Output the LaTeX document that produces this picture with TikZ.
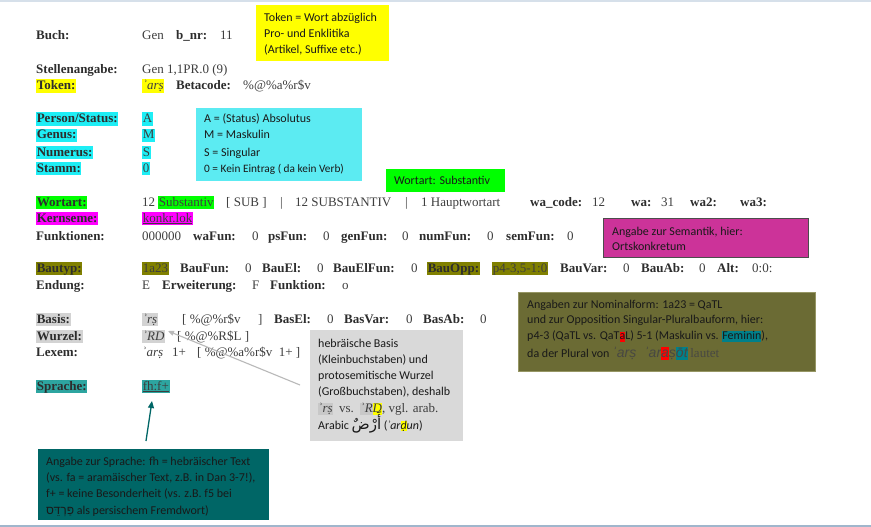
\documentclass[tikz,border=0pt]{standalone}
\usepackage{fontspec}
\setmainfont{Liberation Serif}
\newfontfamily\calfont{Carlito}
\newfontfamily\arabfont[Script=Arabic]{DejaVu Sans}
\newfontfamily\hebfont[Script=Hebrew]{Liberation Sans}
\newfontfamily\lsans{Liberation Sans}
\TeXXeTstate=1
\usetikzlibrary{arrows.meta}
\definecolor{hlyellow}{RGB}{255,255,0}
\definecolor{hlcyan}{RGB}{30,238,245}
\definecolor{boxcyan}{RGB}{92,235,242}
\definecolor{hlgreen}{RGB}{0,255,0}
\definecolor{hlmag}{RGB}{255,0,255}
\definecolor{boxmag}{RGB}{204,51,153}
\definecolor{hlolive}{RGB}{128,128,0}
\definecolor{boxolive}{RGB}{107,107,52}
\definecolor{boxoliveb}{RGB}{150,150,100}
\definecolor{olivetxt}{RGB}{72,72,66}
\definecolor{hlgray}{RGB}{211,211,211}
\definecolor{hlgrayb}{RGB}{200,200,200}
\definecolor{boxgray}{RGB}{217,217,217}
\definecolor{hlteal}{RGB}{45,165,160}
\definecolor{hltealb}{RGB}{0,128,138}
\definecolor{boxteal}{RGB}{0,102,102}
\definecolor{hlred}{RGB}{255,0,0}
\definecolor{txt}{RGB}{62,62,62}
\definecolor{lbl}{RGB}{45,45,45}
\definecolor{boxtxt}{RGB}{25,25,25}
\definecolor{frametop}{RGB}{214,224,234}
\definecolor{framebot}{RGB}{160,182,204}
\definecolor{arrgray}{RGB}{185,185,185}
\newcommand\hlbx[2]{{\setlength{\fboxsep}{0pt}\colorbox{#1}{\vphantom{Ag}#2}}}
\tikzset{
  val/.style={anchor=base west, inner sep=0pt, font=\fontsize{13}{16}\selectfont, text=txt},
  lab/.style={val, font=\fontsize{13}{16}\selectfont\bfseries, text=lbl},
  hlt/.style={fill=#1, inner xsep=0.6pt, inner ysep=0pt, text height=10.5pt, text depth=3pt},
  cal/.style={anchor=base west, inner sep=0pt, font=\calfont\fontsize{12}{16}\selectfont, text=boxtxt},
  boxr/.style={anchor=north west, inner sep=0pt, fill=#1, minimum width=1pt, minimum height=1pt}
}
\begin{document}
\begin{tikzpicture}[x=1pt,y=-1pt]
\useasboundingbox (0,0) rectangle (871,527);
\fill[white] (0,0) rectangle (871,527);
\draw[frametop, line width=1.5pt] (0,0.8) -- (871,0.8);
\draw[framebot, line width=1.5pt] (0,526.2) -- (871,526.2);

% ---- explanation boxes ----
\node[boxr=hlyellow, minimum width=133pt, minimum height=56pt] (ybox) at (256,5) {};
\node[cal] (y1) at (264,21.5) {Token = Wort abzüglich};
\node[cal] (y2) at (264,37.5) {Pro- und Enklitika};
\node[cal] (y3) at (264,53.5) {(Artikel, Suffixe etc.)};

\node[boxr=boxcyan, minimum width=166pt, minimum height=73pt] (cbox) at (196,108) {};
\node[cal] (c1) at (204,123) {A = (Status) Absolutus};
\node[cal] (c2) at (204,139) {M = Maskulin};
\node[cal] (c3) at (204,156) {S = Singular};
\node[cal, font=\calfont\fontsize{11.3}{16}\selectfont] (c4) at (204,172) {0 = Kein Eintrag ( da kein Verb)};

\node[boxr=hlgreen, minimum width=119pt, minimum height=23pt] (gbox) at (386,169) {};
\node[cal] (g1) at (394,184.5) {Wortart: Substantiv};

\node[boxr=boxmag, draw=black!70, line width=0.6pt, minimum width=205pt, minimum height=39pt] (mbox) at (603,218) {};
\node[cal] (m1) at (612,235) {Angabe zur Semantik, hier:};
\node[cal] (m2) at (612,250.5) {Ortskonkretum};

\node[boxr=boxolive, draw=boxoliveb, line width=0.6pt, minimum width=297pt, minimum height=79pt] (obox) at (518,292) {};
\node[cal] (o1) at (527,308) {Angaben zur Nominalform: 1a23 = QaTL};
\node[cal] (o2) at (527,323.5) {und zur Opposition Singular-Pluralbauform, hier:};
\node[cal] (o3) at (527,339.5) {p4-3 (QaTL vs. QaT\hlbx{hlred}{a}L) 5-1 (Maskulin vs. \hlbx{hltealb}{Feminin}),};
\node[cal] (o4) at (527,357) {da der Plural von {\lsans\itshape\fontsize{14}{16}\selectfont\color{olivetxt} ʾarṣ\ \ ʾar\hlbx{hlred}{a}ṣ\hlbx{hltealb}{ōt}} {\rmfamily\fontsize{13}{16}\selectfont\color{olivetxt}lautet}};

\node[boxr=boxgray, minimum width=153pt, minimum height=111pt] (grbox) at (310,330) {};
\node[cal] (gr1) at (318,347) {hebräische Basis};
\node[cal] (gr2) at (318,363) {(Kleinbuchstaben) und};
\node[cal] (gr3) at (318,379) {protosemitische Wurzel};
\node[cal] (gr4) at (318,395) {(Großbuchstaben), deshalb};
\node[cal] (gr5) at (318,412) {{\rmfamily\fontsize{13}{16}\selectfont\color{txt}\hlbx{hlgrayb}{\itshape ʾrṣ}\ \ vs.\ \ \hlbx{hlgrayb}{\itshape ʾR\hlbx{hlyellow}{D}}, vgl. arab.}};
\node[cal] (gr6) at (318,429) {Arabic {\arabfont\fontsize{15}{16}\selectfont\beginR أَرْضٌ\endR} (\textit{ʾar\hlbx{hlyellow}{ḍ}un})};

\node[boxr=boxteal, minimum width=231pt, minimum height=71pt] (tbox) at (38,449) {};
\node[cal] (t1) at (46,465) {Angabe zur Sprache: fh = hebräischer Text};
\node[cal] (t2) at (46,481) {(vs. fa = aramäischer Text, z.B. in Dan 3-7!),};
\node[cal] (t3) at (46,497.5) {f+ = keine Besonderheit (vs. z.B. f5 bei};
\node[cal] (t4) at (46,514) {{\hebfont\beginR פַּרְדֵּס\endR} als persischem Fremdwort)};

% ---- data rows ----
\node[lab] (lBuch) at (36,40) {Buch:};
\node[val] (vBuch) at (142,40) {Gen};
\node[lab] (lbnr) at (176,40) {b\_nr:};
\node[val] (vbnr) at (220,40) {11};

\node[lab] (lStelle) at (36,74) {Stellenangabe:};
\node[val] (vStelle) at (142,74) {Gen 1,1PR.0 (9)};

\node[lab, hlt=hlyellow] (lToken) at (36,90) {Token:};
\node[val, hlt=hlyellow] (vToken) at (142,90) {\itshape ʾarṣ};
\node[lab] (lBeta) at (176,90) {Betacode:};
\node[val] (vBeta) at (243,90) {\%@\%a\%r\$v};

\node[lab, hlt=hlcyan] (lPers) at (36,123) {Person/Status:};
\node[val, hlt=hlcyan] (vPers) at (142,123) {A};
\node[lab, hlt=hlcyan] (lGen) at (36,139) {Genus:};
\node[val, hlt=hlcyan] (vGen) at (142,139) {M};
\node[lab, hlt=hlcyan] (lNum) at (36,156) {Numerus:};
\node[val, hlt=hlcyan] (vNum) at (142,156) {S};
\node[lab, hlt=hlcyan] (lStamm) at (36,172) {Stamm:};
\node[val, hlt=hlcyan] (vStamm) at (142,172) {0};

\node[lab, hlt=hlgreen] (lWort) at (36,206) {Wortart:};
\node[val] (vWort) at (142,206) {12};
\node[val, hlt=hlgreen] (vSubst) at (158,206) {Substantiv};
\node[val] (vSub) at (226,206) {[ SUB ]};
\node[val] (vBar1) at (280,206) {|};
\node[val] (vSUBST) at (295,206) {12 SUBSTANTIV};
\node[val] (vBar2) at (405,206) {|};
\node[val] (vHaupt) at (421,206) {1 Hauptwortart};
\node[lab] (lwacode) at (530,206) {wa\_code:};
\node[val] (vwacode) at (592,206) {12};
\node[lab] (lwa) at (631,206) {wa:};
\node[val] (vwa) at (661,206) {31};
\node[lab] (lwa2) at (690,206) {wa2:};
\node[lab] (lwa3) at (740,206) {wa3:};

\node[lab, hlt=hlmag] (lKern) at (36,222) {Kernseme:};
\node[val, hlt=hlmag] (vKern) at (142,222) {\underline{konkr.lok}};

\node[lab] (lFunk) at (36,240) {Funktionen:};
\node[val] (vFunk) at (142,240) {000000};
\node[lab] (lwaFun) at (193,240) {waFun:};
\node[val] (vwaFun) at (252,240) {0};
\node[lab] (lpsFun) at (268,240) {psFun:};
\node[val] (vpsFun) at (323,240) {0};
\node[lab] (lgenFun) at (341,240) {genFun:};
\node[val] (vgenFun) at (402,240) {0};
\node[lab] (lnumFun) at (419,240) {numFun:};
\node[val] (vnumFun) at (487,240) {0};
\node[lab] (lsemFun) at (506,240) {semFun:};
\node[val] (vsemFun) at (567,240) {0};

\node[lab, hlt=hlolive] (lBau) at (36,272) {Bautyp:};
\node[val, hlt=hlolive] (vBau) at (142,272) {1a23};
\node[lab] (lBauFun) at (180,272) {BauFun:};
\node[val] (vBauFun) at (245,272) {0};
\node[lab] (lBauEl) at (262,272) {BauEl:};
\node[val] (vBauEl) at (317,272) {0};
\node[lab] (lBauElFun) at (333,272) {BauElFun:};
\node[val] (vBauElFun) at (411,272) {0};
\node[lab, hlt=hlolive] (lBauOpp) at (427,272) {BauOpp:};
\node[val, hlt=hlolive] (vBauOpp) at (492,272) {p4-3,5-1:0};
\node[lab] (lBauVar) at (560,272) {BauVar:};
\node[val] (vBauVar) at (623,272) {0};
\node[lab] (lBauAb) at (641,272) {BauAb:};
\node[val] (vBauAb) at (699,272) {0};
\node[lab] (lAlt) at (717,272) {Alt:};
\node[val] (vAlt) at (752,272) {0:0:};

\node[lab] (lEnd) at (36,289) {Endung:};
\node[val] (vEnd) at (142,289) {E};
\node[lab] (lErw) at (162,289) {Erweiterung:};
\node[val] (vErw) at (252,289) {F};
\node[lab] (lFkt) at (270,289) {Funktion:};
\node[val] (vFkt) at (342,289) {o};

\node[lab, hlt=hlgray] (lBas) at (36,323) {Basis:};
\node[val, hlt=hlgray] (vBas) at (142,323) {\itshape ʾrṣ};
\node[val] (vBasB) at (182,323) {[ \%@\%r\$v};
\node[val] (vBasC) at (258,323) {]};
\node[lab] (lBasEl) at (274,323) {BasEl:};
\node[val] (vBasEl) at (327,323) {0};
\node[lab] (lBasVar) at (344,323) {BasVar:};
\node[val] (vBasVar) at (406,323) {0};
\node[lab] (lBasAb) at (423,323) {BasAb:};
\node[val] (vBasAb) at (480,323) {0};

\node[lab, hlt=hlgray] (lWurz) at (36,340) {Wurzel:};
\node[val, hlt=hlgray] (vWurz) at (142,340) {\itshape ʾRD};
\node[val] (vWurzB) at (177,340) {[ \%@\%R\$L ]};

\node[lab] (lLex) at (36,356) {Lexem:};
\node[val] (vLex) at (142,356) {\itshape ʾarṣ};
\node[val] (vLexN) at (172,356) {1+};
\node[val] (vLexB) at (197,356) {[ \%@\%a\%r\$v\ \ 1+ ]};

\node[lab, hlt=hlteal] (lSpr) at (36,390) {Sprache:};
\node[val, hlt=hlteal] (vSpr) at (142,390) {\underline{fh:f+}};

% ---- arrows ----
\coordinate (ta) at (146,441);
\coordinate (th) at (152,401);
\draw[boxteal, line width=1.3pt, -{Triangle[width=6pt,length=7pt]}] (ta) -- (th);
\coordinate (ga) at (300,385);
\coordinate (gh) at (168,331);
\draw[arrgray, line width=1.1pt, -{Triangle[width=5pt,length=6pt]}] (ga) -- (gh);
\end{tikzpicture}
\end{document}
